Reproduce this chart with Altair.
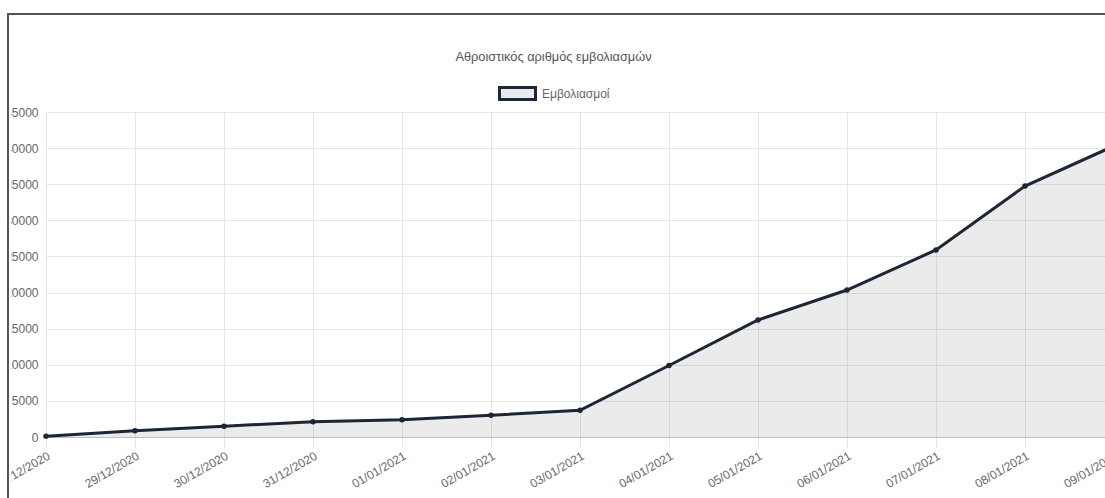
import altair as alt
import pandas as pd

# Cumulative vaccinations per day
dates = [
    "28/12/2020", "29/12/2020", "30/12/2020", "31/12/2020",
    "01/01/2021", "02/01/2021", "03/01/2021", "04/01/2021",
    "05/01/2021", "06/01/2021", "07/01/2021", "08/01/2021", "09/01/2021",
]
doses = [120, 850, 1500, 2100, 2400, 3000, 3700, 9900, 16200, 20350, 25900, 34750, 40300]
series_name = "Εμβολιασμοί"
title_text = "Αθροιστικός αριθμός εμβολιασμών"
y_ticks = [0, 5000, 10000, 15000, 20000, 25000, 30000, 35000, 40000, 45000]

df = pd.DataFrame({"date": dates, "doses": doses, "series": [series_name] * len(dates)})

FONT = "Liberation Sans"
LINE = "#1c2635"
GRID = "#e6e6e6"
LABEL = "#666666"

x_enc = alt.X(
    "date:O",
    sort=dates,
    scale=alt.Scale(type="point", padding=0, range=[0, 1068]),
    axis=alt.Axis(
        title=None, labelAngle=330, labelAlign="right", labelBaseline="top",
        labelPadding=3, tickSize=10, tickColor=GRID, grid=True, gridColor=GRID,
        domainColor="#bfbfbf", labelColor=LABEL, labelFontSize=12, labelFont=FONT,
        labelOverlap=False, zindex=0,
    ),
)
y_enc = alt.Y(
    "doses:Q",
    scale=alt.Scale(domain=[0, 45000], nice=False),
    axis=alt.Axis(
        title=None, values=y_ticks, format="d", grid=True, gridColor=GRID,
        domain=False, ticks=False, labelPadding=8, labelColor=LABEL,
        labelFontSize=12, labelFont=FONT, zindex=0,
    ),
)

base = alt.Chart(df)

area = base.mark_area(color="#7a7a7a", opacity=0.15).encode(x=x_enc, y=y_enc)

line = base.mark_line(strokeWidth=3).encode(
    x=x_enc,
    y=y_enc,
    stroke=alt.Stroke(
        "series:N",
        scale=alt.Scale(domain=[series_name], range=[LINE]),
        legend=alt.Legend(
            title=None, orient="none", legendX=452, legendY=-38,
            symbolType="M-1,-0.33H1V0.33H-1Z", symbolSize=1296,
            symbolStrokeWidth=3, symbolFillColor="#e6eaf0",
            labelFont=FONT, labelFontSize=12, labelColor=LABEL,
            labelOffset=5, padding=0,
        ),
    ),
)

points = base.mark_circle(size=30, color=LINE, opacity=1).encode(x=x_enc, y=y_enc)

# Container frame: white gutter on the left, then a dark border on the left and top
frame_df = pd.DataFrame({"k": [0]})
gutter = alt.Chart(frame_df).mark_rect(color="white").encode(
    x=alt.value(-46), x2=alt.value(-35), y=alt.value(-112), y2=alt.value(386)
)
left_border = alt.Chart(frame_df).mark_rule(color="#555555", strokeWidth=2).encode(
    x=alt.value(-38), y=alt.value(-99), y2=alt.value(386)
)
top_border = alt.Chart(frame_df).mark_rule(color="#555555", strokeWidth=2).encode(
    x=alt.value(-39), x2=alt.value(1070), y=alt.value(-98)
)

chart = (
    alt.layer(area, line, points, gutter, left_border, top_border)
    .properties(
        width=1059,
        height=325,
        autosize=alt.AutoSizeParams(type="none"),
        padding={"left": 46, "top": 112, "right": 0, "bottom": 61},
        title=alt.TitleParams(
            text=title_text, anchor="middle", frame="group", dx=-22, offset=-70,
            baseline="middle", font=FONT, fontSize=12.8, fontWeight="normal",
            color="#555555",
        ),
    )
    .configure_view(strokeWidth=0)
)

chart.save("out.html", embed_options={"renderer": "svg", "actions": False})
